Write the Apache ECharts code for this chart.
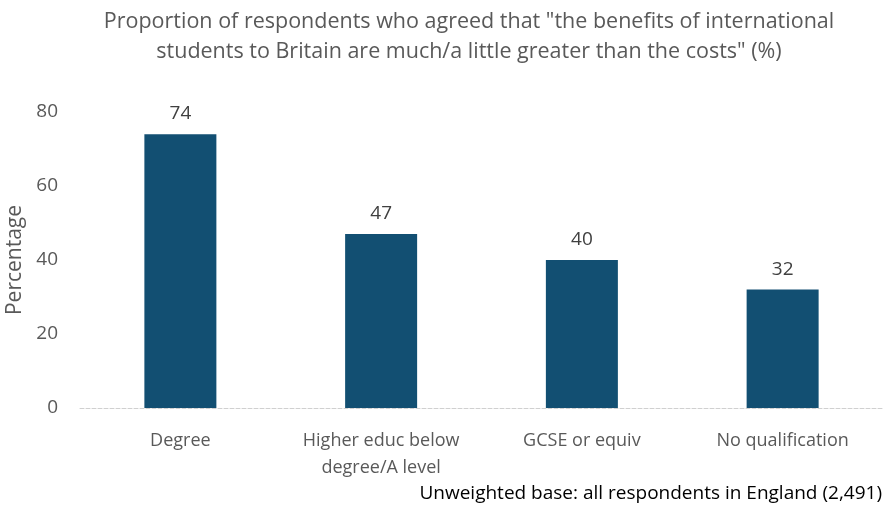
<!DOCTYPE html>
<html>
<head>
<meta charset="utf-8">
<script src="https://cdn.jsdelivr.net/npm/echarts@6/dist/echarts.min.js"></script>
<style>
  html, body { margin: 0; padding: 0; background: #fff; }
  #chart { width: 885px; height: 507px; }
</style>
</head>
<body>
<div id="chart"></div>
<script>
const categories = ['Degree', 'Higher educ below\ndegree/A level', 'GCSE or equiv', 'No qualification']
const values = [74, 47, 40, 32]
const yTicks = [0, 20, 40, 60, 80]

const titleText = 'Proportion of respondents who agreed that "the benefits of international\nstudents to Britain are much/a little greater than the costs" (%)'
const font = 'Open Sans, Lato, sans-serif'
const chart = echarts.init(document.getElementById('chart'))
chart.setOption({
  animation: false,
  graphic: [{
    // title, centred a bit right of the canvas middle like the original
    type: 'text',
    x: 469,
    y: 7,
    style: {
      text: titleText, fontFamily: font, fontSize: 21.5, fill: '#595959',
      lineHeight: 30, align: 'center', verticalAlign: 'top'
    }
  }, {
    type: 'text',
    right: 3,
    top: 484,
    style: { text: 'Unweighted base: all respondents in England (2,491)', fontFamily: font, fontSize: 19, fill: '#000' }
  }],
  grid: { left: 80, right: 2, top: 112, bottom: 99, containLabel: false, outerBoundsMode: 'none' },
  xAxis: {
    type: 'category',
    data: categories,
    axisLine: { lineStyle: { color: '#d0d0d0', type: 'dashed', width: 1 } },
    axisTick: { show: false },
    axisLabel: { interval: 0, hideOverlap: false, fontFamily: font, fontSize: 18, color: '#595959', margin: 19, lineHeight: 27 }
  },
  yAxis: {
    type: 'value',
    min: yTicks[0],
    max: yTicks[yTicks.length - 1],
    interval: 20,
    name: 'Percentage',
    nameLocation: 'middle',
    nameGap: 51,
    nameTextStyle: { fontFamily: font, fontSize: 21, color: '#595959' },
    axisLine: { show: false },
    axisTick: { show: false },
    splitLine: { show: false },
    axisLabel: { fontFamily: font, fontSize: 19, color: '#595959', margin: 22 }
  },
  series: [{
    type: 'bar',
    data: values,
    barWidth: 72,
    itemStyle: { color: '#124f72' },
    label: { show: true, position: 'top', distance: 11, fontFamily: font, fontSize: 19, color: '#404040' }
  }]
})
</script>
</body>
</html>
